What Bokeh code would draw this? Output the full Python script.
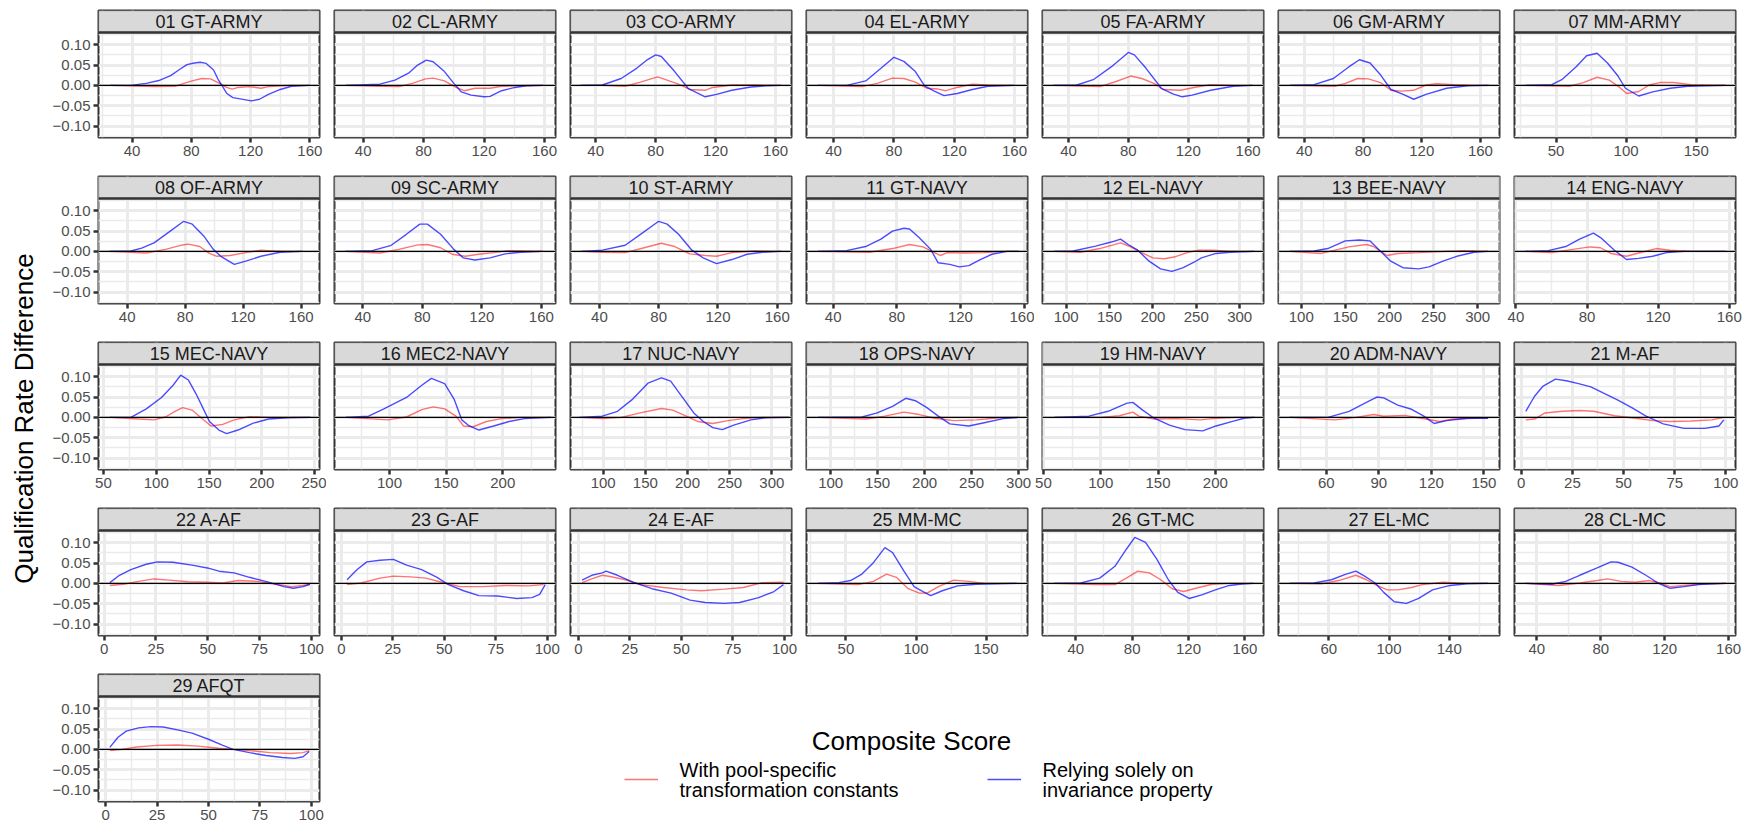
import math
from bokeh.plotting import figure
from bokeh.models import (Range1d, FixedTicker, Span, BoxAnnotation, Label, Legend,
                          LegendItem, CustomJSTickFormatter)
from bokeh.layouts import row, column
from bokeh.embed import file_html
from bokeh.resources import INLINE

# ---------------- data ----------------
panel_names = ["01 GT-ARMY", "02 CL-ARMY", "03 CO-ARMY", "04 EL-ARMY", "05 FA-ARMY", "06 GM-ARMY",
               "07 MM-ARMY", "08 OF-ARMY", "09 SC-ARMY", "10 ST-ARMY", "11 GT-NAVY", "12 EL-NAVY",
               "13 BEE-NAVY", "14 ENG-NAVY", "15 MEC-NAVY", "16 MEC2-NAVY", "17 NUC-NAVY",
               "18 OPS-NAVY", "19 HM-NAVY", "20 ADM-NAVY", "21 M-AF", "22 A-AF", "23 G-AF",
               "24 E-AF", "25 MM-MC", "26 GT-MC", "27 EL-MC", "28 CL-MC", "29 AFQT"]

x_limits = [(17.3, 166.5), (21, 167.3), (23.2, 170.6), (22, 168.6), (22.6, 170.3), (22.4, 173),
            (20.4, 178), (20.2, 172.7), (21, 169.5), (20.5, 169.6), (23.2, 162.2), (72.7, 327.5),
            (74.2, 324.7), (39.2, 163.5), (45.3, 254.7), (51.4, 246.6), (61.2, 323.3),
            (74.3, 309.5), (49.2, 242), (32.7, 158.9), (-3.3, 104.7), (-2.7, 103.9), (-3.3, 104),
            (-3.8, 103.4), (21.9, 179.5), (16.4, 173.2), (26.6, 173.4), (26, 164.3), (-3.5, 104)]

x_ticks = [[40, 80, 120, 160]] * 6 + [[50, 100, 150]] + [[40, 80, 120, 160]] * 4 + \
          [[100, 150, 200, 250, 300]] * 2 + [[40, 80, 120, 160]] + [[50, 100, 150, 200, 250]] + \
          [[100, 150, 200]] + [[100, 150, 200, 250, 300]] * 2 + [[50, 100, 150, 200]] + \
          [[60, 90, 120, 150]] + [[0, 25, 50, 75, 100]] * 4 + [[50, 100, 150]] + \
          [[40, 80, 120, 160]] + [[60, 100, 140]] + [[40, 80, 120, 160]] + [[0, 25, 50, 75, 100]]

y_ticks = [-0.10, -0.05, 0.0, 0.05, 0.10]

series_red_lines = ["With pool-specific", "transformation constants"]
series_blue_lines = ["Relying solely on", "invariance property"]

p01_bx = [25, 39, 49.5, 58, 66, 72, 77, 82, 86, 90, 95, 98, 100.6, 104, 108, 113, 120.5, 126, 132, 140, 147.6, 160]
p01_by = [0, 0, 0.005, 0.012, 0.024, 0.039, 0.051, 0.055, 0.057, 0.054, 0.038, 0.015, 0.0, -0.020, -0.030, -0.033, -0.038, -0.034, -0.022, -0.010, -0.002, 0]
p01_rx = [25, 54.7, 69, 75, 80.5, 87, 93, 100, 103.7, 107.6, 111.5, 119, 127, 132, 147.6, 160]
p01_ry = [0, -0.003, -0.002, 0.005, 0.011, 0.017, 0.016, 0.003, -0.005, -0.009, -0.005, -0.003, -0.007, -0.003, 0, 0]

p02_bx = [28.4, 51, 61, 70, 76, 81.8, 86.3, 93.8, 100, 105, 111.4, 120, 124, 131.6, 140.4, 148, 159]
p02_by = [0, 0.003, 0.013, 0.030, 0.050, 0.062, 0.058, 0.034, 0.005, -0.016, -0.024, -0.028, -0.027, -0.013, -0.005, -0.001, 0]
p02_rx = [28.4, 53.6, 63.6, 72.5, 81.3, 86.3, 93.8, 101.4, 107, 114, 124, 131.6, 144, 159]
p02_ry = [0, -0.002, -0.003, 0.005, 0.016, 0.018, 0.011, -0.005, -0.013, -0.007, -0.007, -0.002, -0.001, 0]

p03_bx = [30, 44.4, 57, 67.3, 74, 80, 83.8, 92.7, 101.6, 113, 120.6, 130.8, 143.5, 153.7, 163.8]
p03_by = [0, 0.001, 0.017, 0.042, 0.062, 0.075, 0.071, 0.034, -0.007, -0.028, -0.022, -0.012, -0.004, -0.001, 0]
p03_rx = [30, 44.4, 59.7, 69.8, 81.3, 87.6, 95.2, 102.9, 113, 118, 130.8, 146, 163.8]
p03_ry = [0, 0, -0.002, 0.008, 0.021, 0.013, 0.003, -0.010, -0.012, -0.005, 0.001, 0.001, 0]

p04_bx = [29.6, 48.6, 61.3, 71.4, 80, 86.6, 94.2, 100.5, 106.8, 113.2, 122, 132, 142.3, 160]
p04_by = [0, 0, 0.011, 0.042, 0.069, 0.059, 0.034, -0.002, -0.014, -0.025, -0.020, -0.010, -0.002, 0]
p04_rx = [29.6, 58.7, 68.9, 79, 86.6, 94.2, 101.8, 109.4, 114.4, 122, 132, 142.3, 160]
p04_ry = [0, -0.003, 0.005, 0.018, 0.017, 0.008, -0.007, -0.009, -0.013, -0.005, 0.003, 0.001, 0]

p05_bx = [30, 45.6, 57, 68.7, 80, 84, 91.8, 102, 109.7, 116, 122.6, 135, 150, 163]
p05_by = [0, 0.001, 0.015, 0.046, 0.081, 0.075, 0.042, -0.007, -0.021, -0.028, -0.024, -0.012, -0.002, 0]
p05_rx = [30, 61, 71.3, 81.5, 89, 97, 103.3, 115, 123.8, 135, 150, 163]
p05_ry = [0, -0.003, 0.009, 0.023, 0.017, 0.005, -0.010, -0.012, -0.005, 0.002, 0, 0]

p06_bx = [30, 46.7, 59.8, 70.5, 77.6, 84.8, 91.9, 99, 107.4, 114.5, 122.9, 137, 151.4, 165.7]
p06_by = [0, 0.002, 0.017, 0.046, 0.063, 0.055, 0.026, -0.010, -0.022, -0.034, -0.022, -0.007, -0.001, 0]
p06_rx = [30, 61, 68, 76.4, 83.6, 91.9, 99, 106.2, 114.5, 122.9, 130, 141.9, 156, 165.7]
p06_ry = [0, -0.002, 0.005, 0.017, 0.016, 0.007, -0.012, -0.014, -0.012, 0.001, 0.004, 0.002, 0, 0]

p07_bx = [28.4, 47, 54.5, 64.4, 71.8, 79.3, 86.7, 94.2, 99.5, 109, 119, 131.4, 143.8, 171]
p07_by = [0, 0.002, 0.015, 0.046, 0.073, 0.079, 0.055, 0.023, -0.007, -0.026, -0.016, -0.007, -0.002, 0]
p07_rx = [28.4, 59.4, 69.4, 79.3, 88, 95.4, 100.4, 109, 116.5, 124, 133.9, 146.3, 171]
p07_ry = [0, -0.002, 0.007, 0.020, 0.013, -0.005, -0.020, -0.015, 0.001, 0.007, 0.007, 0.002, 0]

p08_bx = [28, 42.6, 50, 58.5, 69, 79, 84.9, 92.8, 99.4, 104.6, 113.9, 121.8, 132.3, 145.5, 161.4]
p08_by = [0, 0.001, 0.008, 0.021, 0.048, 0.074, 0.067, 0.038, 0.005, -0.012, -0.032, -0.024, -0.012, -0.002, 0]
p08_rx = [28, 53, 66.4, 77, 82.2, 90, 96.7, 102, 111, 121.8, 132.3, 145.5, 161.4]
p08_ry = [0, -0.004, 0.005, 0.015, 0.018, 0.012, -0.005, -0.012, -0.010, -0.003, 0.003, 0, 0]

p09_bx = [28.5, 46.4, 59.1, 69.3, 78.3, 83.4, 92.3, 101.2, 107.6, 115.3, 125.5, 135.7, 145.9, 161]
p09_by = [0, 0.002, 0.015, 0.042, 0.067, 0.067, 0.042, 0.005, -0.016, -0.021, -0.016, -0.006, -0.002, 0]
p09_rx = [28.5, 51.5, 64.2, 77, 83.4, 92.3, 100, 108.9, 117.8, 128, 138.2, 161]
p09_ry = [0, -0.004, 0.005, 0.016, 0.017, 0.009, -0.007, -0.012, -0.007, -0.003, 0.002, 0]

p10_bx = [28, 42, 57.4, 67.7, 80, 85.7, 93.4, 102.4, 110, 119, 129.4, 139.6, 150, 162.8]
p10_by = [0, 0.003, 0.015, 0.042, 0.074, 0.067, 0.042, 0.003, -0.016, -0.030, -0.020, -0.007, -0.002, 0]
p10_rx = [28, 42, 57.4, 70.2, 81.8, 90.8, 101, 111.4, 119, 129.4, 144.8, 162.8]
p10_ry = [0, -0.002, -0.003, 0.009, 0.020, 0.012, -0.006, -0.010, -0.012, -0.003, 0.001, 0]

p11_bx = [30.4, 48.4, 60.4, 70, 77.3, 84.5, 88, 94, 101.3, 106, 113.3, 119.3, 125.3, 132.5, 139.8, 149.4, 156.6]
p11_by = [0, 0.002, 0.012, 0.030, 0.050, 0.057, 0.055, 0.034, 0.005, -0.028, -0.032, -0.038, -0.035, -0.020, -0.007, 0, 0]
p11_rx = [30.4, 62.8, 77.3, 88, 96.5, 103.7, 107.3, 112, 123, 135, 147, 156.6]
p11_ry = [0, -0.002, 0.007, 0.017, 0.011, -0.003, -0.010, -0.003, -0.004, -0.003, 0, 0]

p12_bx = [86, 108, 134, 152, 162.7, 171.5, 182.5, 195.6, 208.8, 222, 235, 248, 256, 272.7, 288.8, 316.8]
p12_by = [0, 0.001, 0.013, 0.023, 0.030, 0.017, 0.003, -0.024, -0.043, -0.049, -0.040, -0.026, -0.016, -0.005, -0.002, 0]
p12_rx = [86, 116.7, 138.6, 162.7, 173.7, 186.8, 200, 213, 226, 239.5, 252.6, 268.7, 288.8, 316.8]
p12_ry = [0, -0.002, 0.007, 0.021, 0.012, -0.003, -0.016, -0.018, -0.013, -0.003, 0.003, 0.003, 0, 0]

p13_bx = [87, 114.6, 130, 150, 166, 177.7, 189.5, 201.4, 215.2, 233, 244.8, 260.6, 276.3, 296, 311.8]
p13_by = [0, 0.001, 0.007, 0.026, 0.028, 0.026, 0.001, -0.024, -0.040, -0.043, -0.038, -0.024, -0.012, -0.002, 0]
p13_rx = [87, 122.5, 138.3, 154, 173.8, 181.7, 189.5, 197.4, 209.3, 233, 264.5, 284.2, 311.8]
p13_ry = [0, -0.005, 0.003, 0.011, 0.017, 0.012, 0.001, -0.010, -0.005, -0.003, 0, 0.002, 0]

p14_bx = [45.5, 58.2, 68, 75.8, 83.6, 87.6, 95.4, 102.2, 109, 116.9, 124.7, 134.5, 158]
p14_by = [0, 0.002, 0.012, 0.030, 0.045, 0.034, 0.003, -0.020, -0.017, -0.012, -0.003, 0, 0]
p14_rx = [45.5, 60, 72, 81.7, 87.6, 93.4, 102.2, 109, 118.9, 126.7, 138.4, 158]
p14_ry = [0, -0.003, 0.005, 0.011, 0.009, -0.005, -0.012, -0.004, 0.007, 0.003, 0, 0]

p15_bx = [56, 76, 90.6, 105, 116, 123.2, 130.4, 137.7, 145, 150.4, 159.4, 166.7, 177.5, 192, 206.5, 224.6, 246]
p15_by = [0, 0, 0.021, 0.049, 0.079, 0.104, 0.092, 0.058, 0.019, -0.010, -0.031, -0.040, -0.031, -0.014, -0.004, -0.001, 0]
p15_rx = [56, 83, 97.8, 108.7, 117.8, 125, 134, 143, 152, 163, 174, 188.4, 206.5, 246]
p15_ry = [0, -0.004, -0.006, 0.001, 0.015, 0.024, 0.018, -0.002, -0.021, -0.017, -0.006, 0.002, 0, 0]

p16_bx = [61.4, 81.5, 95, 115, 128.5, 137, 148.7, 157, 163.8, 170.5, 179, 192, 205.7, 219, 242.6]
p16_by = [0, 0.003, 0.021, 0.049, 0.079, 0.096, 0.083, 0.045, -0.006, -0.021, -0.031, -0.021, -0.010, -0.003, 0]
p16_rx = [61.4, 98.3, 115, 128.5, 138.6, 148.7, 158.7, 165.4, 173.8, 185.6, 199, 215.8, 242.6]
p16_ry = [0, -0.006, 0.001, 0.019, 0.026, 0.021, 0.003, -0.021, -0.023, -0.010, -0.003, 0, 0]

p17_bx = [72, 98.9, 117, 135, 153, 169, 180, 193.8, 207.4, 218.7, 230, 241.3, 254.8, 275, 293, 320]
p17_by = [0, 0.003, 0.015, 0.045, 0.084, 0.097, 0.089, 0.050, 0.011, -0.010, -0.025, -0.030, -0.019, -0.006, -0.001, 0]
p17_rx = [72, 99, 121.5, 144, 169, 182.5, 198.4, 212, 230, 248, 266, 288.7, 320]
p17_ry = [0, -0.003, 0, 0.011, 0.022, 0.018, 0.003, -0.010, -0.015, -0.008, -0.003, 0, 0]

p18_bx = [86.6, 133.3, 149.6, 165.9, 180, 190.2, 202.4, 214.6, 226.8, 247, 263.4, 283.7, 300]
p18_by = [0, 0.001, 0.011, 0.027, 0.047, 0.041, 0.024, 0.003, -0.016, -0.021, -0.013, -0.003, 0]
p18_rx = [86.6, 137.4, 157.7, 178, 194.3, 210.6, 230.9, 255.3, 279.7, 300]
p18_ry = [0, -0.004, 0.003, 0.013, 0.007, -0.002, -0.008, -0.006, -0.001, 0]

p19_bx = [59.4, 89.6, 106.4, 123, 128, 136.6, 146.6, 160, 173.5, 189, 200.6, 215.8, 225, 234]
p19_by = [0, 0.003, 0.015, 0.035, 0.037, 0.018, -0.002, -0.019, -0.030, -0.033, -0.021, -0.009, -0.002, 0]
p19_rx = [59.4, 99.7, 116.4, 128, 133.2, 146.6, 166.8, 187, 197.6, 218.8, 234]
p19_ry = [0, 0, 0.004, 0.013, 0.003, -0.004, -0.003, -0.006, -0.003, 0, 0]

p20_bx = [39, 61, 73, 82.9, 88.8, 92.8, 100.8, 108.7, 115.7, 121.6, 128.6, 140.5, 152.4]
p20_by = [0, 0, 0.015, 0.037, 0.050, 0.048, 0.030, 0.020, 0.003, -0.015, -0.008, -0.002, -0.002]
p20_rx = [39, 65, 77, 87, 92.8, 104.7, 116.7, 124.6, 132.6, 144.5, 152.4]
p20_ry = [0, -0.006, 0, 0.007, 0.003, 0.005, -0.004, -0.010, -0.004, -0.002, -0.001]

p21_bx = [2.2, 6.5, 10.7, 16.7, 22, 28, 34, 40, 47, 54, 61, 69.4, 79.6, 89.8, 96.6, 99]
p21_by = [0.015, 0.052, 0.077, 0.094, 0.090, 0.083, 0.075, 0.060, 0.043, 0.024, 0.003, -0.016, -0.027, -0.027, -0.021, -0.006]
p21_rx = [2.2, 6.5, 11.6, 20, 28.6, 35.4, 45.6, 55.8, 64.3, 72.8, 83, 93.2, 99]
p21_ry = [-0.006, -0.004, 0.011, 0.015, 0.017, 0.015, 0.004, -0.002, -0.008, -0.010, -0.009, -0.006, 0]

p22_bx = [2.8, 7.4, 12.9, 20.3, 25.8, 33.2, 42.4, 49.8, 55.4, 62.7, 70.1, 79.3, 86.7, 91.3, 96, 99.3]
p22_by = [0.002, 0.020, 0.034, 0.047, 0.053, 0.052, 0.045, 0.038, 0.030, 0.026, 0.015, 0.003, -0.008, -0.012, -0.008, -0.002]
p22_rx = [2.8, 9.2, 16.6, 24, 31.4, 40.6, 49.8, 57.2, 64.6, 73.8, 83, 90.4, 96, 99.3]
p22_ry = [-0.005, -0.002, 0.005, 0.011, 0.008, 0.004, 0.003, 0.001, 0.007, 0.005, -0.002, -0.008, -0.005, -0.002]

p23_bx = [2.8, 7.7, 12.4, 18.8, 25.3, 31.7, 39, 46.5, 52, 59.4, 66.8, 76, 85.2, 92.6, 96.3, 99]
p23_by = [0.009, 0.034, 0.053, 0.057, 0.059, 0.045, 0.034, 0.015, -0.003, -0.018, -0.030, -0.031, -0.037, -0.035, -0.027, -0.003]
p23_rx = [2.8, 9.6, 18.8, 25.3, 33.6, 41, 50.2, 57.6, 68.6, 79.7, 90.8, 98.2]
p23_ry = [-0.003, 0.001, 0.013, 0.018, 0.016, 0.013, 0.001, -0.008, -0.008, -0.005, -0.006, -0.003]

p24_bx = [1.8, 6.5, 11.6, 13.5, 19, 26.5, 35.7, 45, 54.2, 61.6, 70.8, 78.2, 87.5, 94.9, 99.5]
p24_by = [0.008, 0.020, 0.026, 0.030, 0.020, 0.003, -0.013, -0.024, -0.041, -0.047, -0.049, -0.047, -0.035, -0.020, -0.003]
p24_rx = [1.8, 6.5, 11.6, 15.4, 22.8, 30.2, 41.3, 52.4, 59.7, 70.8, 80, 89.3, 99.5]
p24_ry = [0.002, 0.011, 0.020, 0.017, 0.009, -0.003, -0.010, -0.016, -0.018, -0.014, -0.010, 0.002, 0.003]

p25_bx = [30, 45, 53.3, 61.4, 69.6, 77.8, 83.2, 91.4, 98.6, 105, 110.5, 118.7, 129.6, 143, 171.8]
p25_by = [0, 0.002, 0.007, 0.023, 0.051, 0.088, 0.076, 0.030, -0.008, -0.020, -0.030, -0.018, -0.006, -0.002, 0]
p25_rx = [30, 58.7, 69.6, 79, 86, 94, 102.3, 107.8, 116, 126.8, 137.7, 148.6, 171.8]
p25_ry = [0, -0.003, 0.005, 0.023, 0.015, -0.012, -0.024, -0.024, -0.008, 0.008, 0.005, 0, 0]

p26_bx = [24.6, 43.5, 57, 67.8, 75.9, 81.9, 89.5, 97.6, 105.7, 112.4, 120.5, 129.4, 139, 149, 156.3, 166]
p26_by = [0, 0.001, 0.013, 0.042, 0.084, 0.113, 0.101, 0.059, 0.009, -0.022, -0.037, -0.028, -0.016, -0.005, -0.002, 0]
p26_rx = [24.6, 54.3, 67.8, 75.9, 84, 92.2, 100.3, 108.4, 116.5, 127.3, 136.7, 149, 166]
p26_ry = [0, -0.003, -0.003, 0.013, 0.030, 0.026, 0.009, -0.013, -0.020, -0.010, -0.002, 0, 0]

p27_bx = [34, 50.3, 61.8, 71, 78, 83.8, 90.8, 96.5, 103.5, 111.6, 119.7, 128.9, 140.5, 152, 165.9]
p27_by = [0, 0.001, 0.009, 0.022, 0.030, 0.018, 0.001, -0.022, -0.045, -0.049, -0.037, -0.016, -0.005, -0.001, 0]
p27_rx = [34, 55, 66.5, 78, 85, 92, 98.8, 105.8, 115, 122, 135.8, 149.7, 165.9]
p27_ry = [0, -0.001, 0.007, 0.020, 0.009, -0.005, -0.016, -0.016, -0.010, -0.003, 0.003, 0, 0]

p28_bx = [33, 49.4, 58, 66.8, 77.7, 86.4, 90.8, 99.5, 108.2, 115.8, 123.4, 132.2, 140.9, 158.3]
p28_by = [0, -0.002, 0.005, 0.020, 0.038, 0.053, 0.052, 0.040, 0.020, 0.001, -0.012, -0.008, -0.003, 0]
p28_rx = [33, 53.7, 66.8, 77.7, 84.2, 92.9, 101.6, 110.4, 116.9, 123.4, 132.2, 145.2, 158.3]
p28_ry = [0, -0.005, 0.001, 0.007, 0.011, 0.005, 0.003, 0.007, 0.001, -0.008, -0.005, -0.001, 0]

p29_bx = [2, 6, 10, 16, 22, 28, 35, 42, 50, 57, 62, 70, 78, 86, 92, 96, 99]
p29_by = [0.005, 0.030, 0.045, 0.053, 0.056, 0.055, 0.048, 0.040, 0.025, 0.010, 0.0, -0.008, -0.015, -0.020, -0.022, -0.018, -0.005]
p29_rx = [2, 8, 15, 25, 35, 45, 55, 62, 70, 80, 90, 96, 99]
p29_ry = [-0.003, 0, 0.006, 0.010, 0.011, 0.008, 0.003, 0, -0.003, -0.008, -0.010, -0.008, -0.003]

panel_series = [
    (p01_bx, p01_by, p01_rx, p01_ry), (p02_bx, p02_by, p02_rx, p02_ry), (p03_bx, p03_by, p03_rx, p03_ry),
    (p04_bx, p04_by, p04_rx, p04_ry), (p05_bx, p05_by, p05_rx, p05_ry), (p06_bx, p06_by, p06_rx, p06_ry),
    (p07_bx, p07_by, p07_rx, p07_ry), (p08_bx, p08_by, p08_rx, p08_ry), (p09_bx, p09_by, p09_rx, p09_ry),
    (p10_bx, p10_by, p10_rx, p10_ry), (p11_bx, p11_by, p11_rx, p11_ry), (p12_bx, p12_by, p12_rx, p12_ry),
    (p13_bx, p13_by, p13_rx, p13_ry), (p14_bx, p14_by, p14_rx, p14_ry), (p15_bx, p15_by, p15_rx, p15_ry),
    (p16_bx, p16_by, p16_rx, p16_ry), (p17_bx, p17_by, p17_rx, p17_ry), (p18_bx, p18_by, p18_rx, p18_ry),
    (p19_bx, p19_by, p19_rx, p19_ry), (p20_bx, p20_by, p20_rx, p20_ry), (p21_bx, p21_by, p21_rx, p21_ry),
    (p22_bx, p22_by, p22_rx, p22_ry), (p23_bx, p23_by, p23_rx, p23_ry), (p24_bx, p24_by, p24_rx, p24_ry),
    (p25_bx, p25_by, p25_rx, p25_ry), (p26_bx, p26_by, p26_rx, p26_ry), (p27_bx, p27_by, p27_rx, p27_ry),
    (p28_bx, p28_by, p28_rx, p28_ry), (p29_bx, p29_by, p29_rx, p29_ry),
]

# ---------------- style / layout ----------------
FONT = "Liberation Sans"
RED = "#FF0000"
BLUE = "#0000FF"
FRAME_W, FRAME_H, STRIP_H = 221, 127, 22
FIG_H = 166
TOP_B = 10
BOT_B = FIG_H - TOP_B - FRAME_H
Y_LO, Y_HI = -0.128, 0.130
Y_TOP = Y_HI + STRIP_H * (Y_HI - Y_LO) / (FRAME_H - STRIP_H)
YLAB_W = 40
FIRST_LEFT = 58
OTHER_LEFT = 8
RIGHT = 7
NCOL = 7

yfmt = CustomJSTickFormatter(code="""
const s = Math.abs(tick).toFixed(2);
return (tick < -1e-9 ? "\u2212" : "") + s;
""")


def minor_of(ticks):
    step = ticks[1] - ticks[0]
    out = [ticks[0] - step / 2]
    for a, b in zip(ticks[:-1], ticks[1:]):
        out.append((a + b) / 2)
    out.append(ticks[-1] + step / 2)
    return out


def make_panel(i):
    first_col = (i % NCOL == 0)
    lo, hi = x_limits[i]
    left = FIRST_LEFT if first_col else OTHER_LEFT
    p = figure(width=left + FRAME_W + RIGHT, height=FIG_H,
               x_range=Range1d(lo, hi), y_range=Range1d(Y_LO, Y_TOP),
               output_backend="svg", toolbar_location=None, title=None,
               min_border_left=left, min_border_right=RIGHT,
               min_border_top=TOP_B, min_border_bottom=BOT_B,
               y_axis_location="left" if first_col else None)
    p.background_fill_color = "white"
    p.border_fill_color = "white"
    p.outline_line_color = "#333333"
    p.outline_line_width = 2

    xt = FixedTicker(ticks=x_ticks[i], minor_ticks=minor_of(x_ticks[i]))
    yt = FixedTicker(ticks=y_ticks, minor_ticks=[-0.125, -0.075, -0.025, 0.025, 0.075, 0.125])
    p.xaxis.ticker = xt
    p.xgrid.ticker = xt
    p.ygrid.ticker = yt
    for g in (p.xgrid, p.ygrid):
        g.grid_line_color = "#EBEBEB"
        g.grid_line_width = 3
        g.minor_grid_line_color = "#EBEBEB"
        g.minor_grid_line_width = 1.5

    axes = list(p.xaxis)
    if first_col:
        p.yaxis.ticker = yt
        p.yaxis.formatter = yfmt
        axes += list(p.yaxis)
    for ax in axes:
        ax.axis_line_color = None
        ax.major_tick_line_color = "#333333"
        ax.major_tick_line_width = 2.5
        ax.major_tick_out = 5
        ax.major_tick_in = 0
        ax.minor_tick_line_color = None
        ax.major_label_text_font = FONT
        ax.major_label_text_font_size = "15px"
        ax.major_label_text_color = "#4D4D4D"
        ax.major_label_standoff = 3

    bx, by, rx, ry = panel_series[i]
    p.add_layout(Span(location=0, dimension="width", line_color="black", line_width=1.2))
    p.line(rx, ry, line_color=RED, line_alpha=0.55, line_width=1.4)
    p.line(bx, by, line_color=BLUE, line_alpha=0.7, line_width=1.4)

    # facet strip
    p.add_layout(BoxAnnotation(left=lo, right=hi, bottom=Y_HI, top=Y_TOP,
                               fill_color="#D9D9D9", fill_alpha=1,
                               line_color="#333333", line_width=1.5, level="annotation"))
    p.add_layout(Span(location=Y_HI, dimension="width", line_color="#333333", line_width=2.5))
    p.add_layout(Label(x=(lo + hi) / 2, y=(Y_HI + Y_TOP) / 2, text=panel_names[i],
                       text_align="center", text_baseline="middle",
                       text_font=FONT, text_font_size="18px", text_color="#1A1A1A"))
    return p


panels = [make_panel(i) for i in range(len(panel_names))]

# y axis title
ylab = figure(width=YLAB_W, height=5 * FIG_H, x_range=Range1d(0, 1), y_range=Range1d(0, 1),
              output_backend="svg", toolbar_location=None, title=None, min_border=0,
              x_axis_location=None, y_axis_location=None, outline_line_color=None)
ylab.grid.visible = False
ylab.add_layout(Label(x=23, y=412, x_units="screen", y_units="screen",
                      text="Qualification Rate Difference", angle=math.pi / 2,
                      text_align="center", text_baseline="middle",
                      text_font=FONT, text_font_size="26px", text_color="black"))

# blank area of the last row: x title + legend.
# Its frame lines up with panel 29's frame (bottom 29 px above the page bottom),
# and annotations are clipped to that frame, so everything is kept inside it.
blank_w = (NCOL - 1) * (OTHER_LEFT + FRAME_W + RIGHT)
blank = figure(width=blank_w, height=FIG_H, x_range=Range1d(0, 1), y_range=Range1d(0, 1),
               output_backend="svg", toolbar_location=None, title=None,
               min_border_left=OTHER_LEFT, min_border_right=RIGHT,
               min_border_top=TOP_B, min_border_bottom=BOT_B,
               x_axis_location=None, y_axis_location=None, outline_line_color=None)
blank.grid.visible = False
blank.background_fill_alpha = 0
blank.border_fill_alpha = 0
blank.add_layout(Label(x=577, y=61, x_units="screen", y_units="screen",
                       text="Composite Score", text_align="center", text_baseline="middle",
                       text_font=FONT, text_font_size="26px", text_color="black"))

nan = float("nan")
key_specs = [(RED, 0.55, 290, series_red_lines), (BLUE, 0.7, 653, series_blue_lines)]
for color, alpha, kx, lines in key_specs:
    r = blank.line(x=[nan], y=[nan], line_color=color, line_alpha=alpha, line_width=1.4)
    lg = Legend(items=[LegendItem(label=" ", renderers=[r])], location=(kx, 12),
                glyph_width=34, glyph_height=20, label_height=20, label_width=1,
                label_standoff=0, padding=0, margin=0, border_line_color=None,
                background_fill_alpha=0, label_text_font_size="1px")
    blank.add_layout(lg)
    for j, txt in enumerate(lines):
        blank.add_layout(Label(x=kx + 34 + 21, y=32 - 20 * j, x_units="screen", y_units="screen",
                               text=txt, text_align="left", text_baseline="middle",
                               text_font=FONT, text_font_size="20px", text_color="black"))

rows = []
for r in range(5):
    figs = panels[r * NCOL:(r + 1) * NCOL]
    if r == 4:
        figs = figs + [blank]
    rows.append(row(*figs))
layout = row(ylab, column(*rows))

open("out.html", "w").write(file_html(layout, INLINE))
